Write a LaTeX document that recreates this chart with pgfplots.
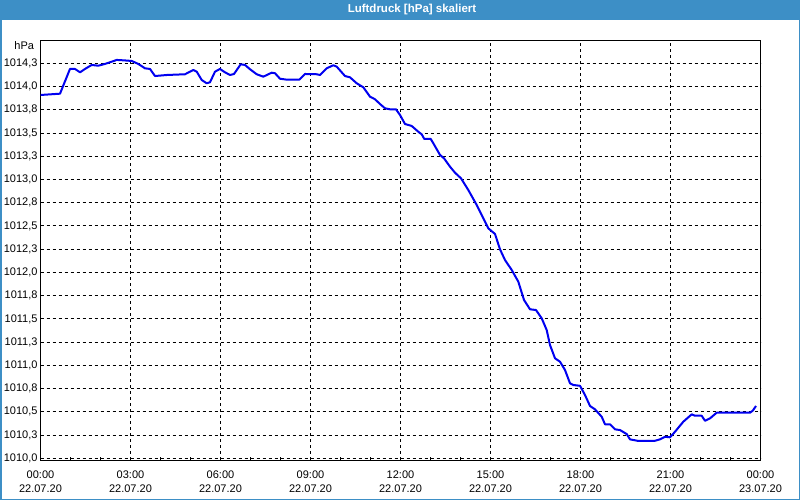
\documentclass[border=0pt]{standalone}
\usepackage{pgfplots}
\pgfplotsset{compat=1.18}
\usepackage{fontspec}
\setmainfont{Liberation Sans}
\definecolor{titleblue}{RGB}{61,143,198}
\definecolor{lineblue}{RGB}{0,0,240}
\begin{document}
\begin{tikzpicture}
\useasboundingbox (0,0) rectangle (800bp,500bp);
\fill[white] (0,0) rectangle (800bp,500bp);
\fill[titleblue] (0,479.5bp) rectangle (800bp,500bp);
\draw[titleblue,line width=1.5bp] (0.75bp,480bp) -- (0.75bp,0.75bp) -- (799.25bp,0.75bp) -- (799.25bp,480bp);
\node[text=white,font=\fontsize{11.5bp}{13bp}\selectfont\bfseries] at (412bp,490bp) {Luftdruck [hPa] skaliert};
\node[anchor=east,font=\fontsize{11bp}{13bp}\selectfont] at (37.5bp,454bp) {hPa};
\begin{axis}[
  at={(40.5bp,40bp)}, anchor=south west,
  scale only axis, width=720bp, height=419.3bp,
  xmin=0, xmax=24, ymin=1009.982, ymax=1014.492,
  axis line style={black, line width=1bp},
  xtick={0,3,6,9,12,15,18,21,24},
  xticklabels={{00:00\\22.07.20},{03:00\\22.07.20},{06:00\\22.07.20},{09:00\\22.07.20},{12:00\\22.07.20},{15:00\\22.07.20},{18:00\\22.07.20},{21:00\\22.07.20},{00:00\\23.07.20}},
  ytick={1010,1010.25,1010.5,1010.75,1011,1011.25,1011.5,1011.75,1012,1012.25,1012.5,1012.75,1013,1013.25,1013.5,1013.75,1014,1014.25},
  yticklabels={{1010,0},{1010,3},{1010,5},{1010,8},{1011,0},{1011,3},{1011,5},{1011,8},{1012,0},{1012,3},{1012,5},{1012,8},{1013,0},{1013,3},{1013,5},{1013,8},{1014,0},{1014,3}},
  minor x tick num=2,
  xtick pos=lower, ytick pos=left,
  tick align=inside,
  major tick length=3bp, minor tick length=3bp,
  ytick style={draw=none},
  xtick style={black, line width=0.8bp},
  minor tick style={black, line width=0.8bp},
  grid=major,
  major grid style={black, line width=0.8bp, dash pattern=on 3bp off 3bp},
  tick label style={font=\fontsize{11bp}{14bp}\selectfont},
  xticklabel style={align=center, yshift=-7bp},
  yticklabel style={xshift=0.5bp},
  /pgf/number format/assume math mode=true,
]
\addplot[lineblue, line width=2bp, line join=round] coordinates {
(0,1013.908) (0.65,1013.922) (0.983,1014.188) (1.15,1014.188) (1.317,1014.152) (1.483,1014.188) (1.707,1014.231) (1.927,1014.223) (2.15,1014.242) (2.373,1014.266) (2.54,1014.285) (2.76,1014.281) (3.04,1014.274) (3.26,1014.242) (3.483,1014.195) (3.65,1014.188) (3.817,1014.112) (4.207,1014.123) (4.817,1014.131) (5.093,1014.177) (5.207,1014.159) (5.373,1014.070) (5.54,1014.034) (5.65,1014.045) (5.817,1014.159) (5.983,1014.188) (6.15,1014.152) (6.317,1014.123) (6.45,1014.134) (6.673,1014.238) (6.817,1014.231) (6.983,1014.185) (7.207,1014.131) (7.427,1014.105) (7.707,1014.148) (7.817,1014.142) (7.983,1014.083) (8.207,1014.073) (8.627,1014.073) (8.817,1014.134) (9.207,1014.131) (9.317,1014.123) (9.54,1014.195) (9.76,1014.228) (9.873,1014.213) (10.15,1014.112) (10.317,1014.098) (10.54,1014.034) (10.76,1013.991) (10.983,1013.890) (11.15,1013.862) (11.317,1013.811) (11.483,1013.765) (11.65,1013.754) (11.85,1013.754) (11.983,1013.693) (12.15,1013.596) (12.373,1013.575) (12.593,1013.513) (12.707,1013.485) (12.793,1013.435) (13.007,1013.435) (13.093,1013.389) (13.317,1013.263) (13.45,1013.227) (13.65,1013.137) (13.817,1013.072) (14.017,1013.012) (14.26,1012.886) (14.54,1012.725) (14.76,1012.582) (14.927,1012.474) (15.15,1012.413) (15.317,1012.248) (15.483,1012.133) (15.707,1012.026) (15.927,1011.900) (16.117,1011.703) (16.317,1011.603) (16.517,1011.595) (16.707,1011.506) (16.873,1011.380) (16.983,1011.219) (17.15,1011.076) (17.317,1011.039) (17.483,1010.950) (17.65,1010.807) (17.76,1010.789) (17.983,1010.780) (18.15,1010.681) (18.317,1010.563) (18.483,1010.527) (18.707,1010.447) (18.817,1010.366) (18.983,1010.366) (19.15,1010.312) (19.317,1010.304) (19.54,1010.261) (19.65,1010.204) (19.893,1010.189) (20.483,1010.189) (20.65,1010.204) (20.817,1010.232) (20.983,1010.226) (21.15,1010.286) (21.427,1010.394) (21.707,1010.473) (21.817,1010.458) (22.04,1010.458) (22.15,1010.404) (22.317,1010.430) (22.54,1010.491) (23.65,1010.491) (23.74,1010.512) (23.85,1010.563)
};
\end{axis}
\end{tikzpicture}
\end{document}
